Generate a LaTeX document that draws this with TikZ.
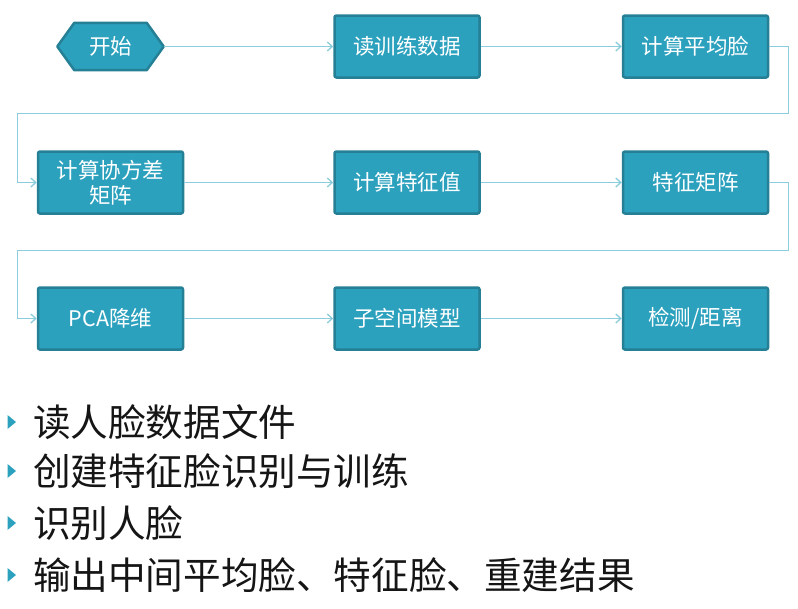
\documentclass[tikz,border=0pt]{standalone}
\usepackage{fontspec}
\setmainfont{Noto Sans CJK SC}
\usetikzlibrary{arrows.meta}
\definecolor{boxfill}{HTML}{2CA1BE}
\definecolor{boxedge}{HTML}{257F95}
\definecolor{conn}{HTML}{8CCCDD}
\definecolor{bullettext}{HTML}{151515}
\tikzset{
  stepbox/.style={rectangle, fill=boxfill, draw=boxedge, line width=2.5pt, rounded corners=2pt,
    minimum width=145pt, minimum height=62pt, inner sep=2pt, align=center,
    text=white, font=\fontsize{21.5}{25}\selectfont},
  hexbox/.style={fill=boxfill, draw=boxedge, line width=2.5pt, line join=round},
  conn/.style={draw=conn, line width=1.6pt, -{Straight Barb[length=5pt,width=9pt,line width=1.3pt]}},
  bul/.style={fill=boxfill},
  btext/.style={anchor=west, text=bullettext, font=\fontsize{37.6}{40}\selectfont, inner sep=0pt}
}
\begin{document}
\begin{tikzpicture}[x=1pt,y=-1pt]
\useasboundingbox (0,0) rectangle (798,608);
% start hexagon
\node[minimum width=72pt, minimum height=47pt, inner sep=0pt] (start) at (110.5,46.5) {};
\draw[hexbox] (start.north west) -- (start.north east) -- ([xshift=17pt]start.east) -- (start.south east) -- (start.south west) -- ([xshift=-17pt]start.west) -- cycle;
\node[text=white, font=\fontsize{21.5}{24}\selectfont] at (start.center) {开始};
\coordinate (startR) at ([xshift=17pt]start.east);
% boxes
\node[stepbox] (b2) at (407,46.5) {读训练数据};
\node[stepbox] (b3) at (695.5,46.5) {计算平均脸};
\node[stepbox, inner sep=0pt] (b4) at (110.5,182.5) {计算协方差\\矩阵};
\node[stepbox] (b5) at (407,182.5) {计算特征值};
\node[stepbox] (b6) at (695.5,182.5) {特征矩阵};
\node[stepbox] (b7) at (110.5,318.5) {PCA降维};
\node[stepbox] (b8) at (407,318.5) {子空间模型};
\node[stepbox] (b9) at (695.5,318.5) {检测/距离};
% loop corners
\coordinate (r1) at (788.5,113.5);
\coordinate (l1) at (17.5,113.5);
\coordinate (r2) at (788.5,250.5);
\coordinate (l2) at (17.5,250.5);
% connectors
\draw[conn] (startR) -- (b2.west);
\draw[conn] (b2.east) -- (b3.west);
\draw[conn] (b3.east) -| (r1) -- (l1) |- (b4.west);
\draw[conn] (b4.east) -- (b5.west);
\draw[conn] (b5.east) -- (b6.west);
\draw[conn] (b6.east) -| (r2) -- (l2) |- (b7.west);
\draw[conn] (b7.east) -- (b8.west);
\draw[conn] (b8.east) -- (b9.west);
% bullets
\foreach \yy in {422, 471, 523, 575} {
  \fill[bul] (7.5,\yy-7) -- (16,\yy) -- (7.5,\yy+7) -- cycle;
}
\node[btext] (t1) at (33,422) {读人脸数据文件};
\node[btext] (t2) at (33,471) {创建特征脸识别与训练};
\node[btext] (t3) at (33,523) {识别人脸};
\node[btext] (t4) at (33,575) {输出中间平均脸、特征脸、重建结果};
\end{tikzpicture}
\end{document}
